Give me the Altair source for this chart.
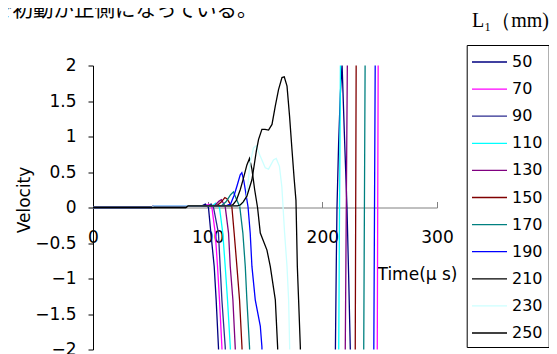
import altair as alt
import pandas as pd

# ---------------- data ----------------
L1 = [50, 70, 90, 110, 130, 150, 170, 190, 210, 230, 250]
COLORS = ["#000080", "#FF00FF", "#2B2B8F", "#00FFFF", "#800080", "#800000",
          "#008080", "#0000FF", "#000000", "#CCFFFF", "#000000"]

t_50 = [0, 51, 53, 95, 98, 100.7, 102.8, 105.7, 107.4, 109.4, 110.5,
        211.0, 211.4, 212.2, 212.8, 214.2, 215.7, 217.2, 219.3, 221.5, 223.0, 224.4, 225.0]
v_50 = [0, 0, 0.024, 0.024, 0.05, 0.0, -0.36, -0.83, -1.3, -1.96, -2.5,
        -2.5, -2.0, -0.74, 0.01, 0.9, 1.6, 2.02, 1.0, 0.0, -1.0, -2.0, -2.5]

t_70 = [0, 51, 53, 98, 101, 103.7, 106.6, 108.6, 110.3, 112.4, 113.5,
        247.6, 247.9, 248.3, 248.7, 249.0]
v_70 = [0, 0, 0.024, 0.024, 0.045, 0.0, -0.36, -0.83, -1.3, -1.96, -2.5,
        -2.5, -2.0, 0.0, 2.0, 2.5]

t_90 = [0, 51, 53, 101, 103, 105.1, 109.4, 110.9, 112.4, 115.3, 116.5]
v_90 = [0, 0, 0.024, 0.024, 0.05, 0.0, -0.36, -0.83, -1.3, -1.96, -2.5]

t_110 = [0, 51, 53, 104, 107, 110.3, 113.2, 115.3, 117.3, 119.7, 120.8,
         214.0, 214.3, 215.0, 215.8, 216.1]
v_110 = [0, 0, 0.024, 0.024, 0.06, 0.0, -0.36, -0.83, -1.3, -1.96, -2.5,
         -2.5, -2.0, 0.0, 2.0, 2.5]

t_130 = [0, 51, 53, 106, 110, 112, 115.3, 118.2, 119.7, 122.0, 124.0, 125.2,
         219.6, 220.0, 220.9, 221.8, 222.2]
v_130 = [0, 0, 0.024, 0.024, 0.09, 0.11, 0.01, -0.36, -0.83, -1.3, -1.96, -2.5,
         -2.5, -2.0, 0.0, 2.0, 2.5]

t_150 = [0, 51, 53, 108, 112, 115, 117, 121.1, 123.1, 125.5, 127.8, 129.9, 131.0,
         228.4, 228.7, 229.1, 229.5, 229.8]
v_150 = [0, 0, 0.024, 0.024, 0.08, 0.14, 0.12, 0.01, -0.36, -0.83, -1.3, -1.96, -2.5,
         -2.5, -2.0, 0.0, 2.0, 2.5]

t_170 = [0, 51, 53, 112, 116, 120, 122.5, 125, 128, 130.7, 132.8, 134.2, 136.5, 137.5,
         235.8, 236.1, 236.7, 237.3, 237.6]
v_170 = [0, 0, 0.024, 0.024, 0.08, 0.18, 0.22, 0.12, 0.01, -0.36, -0.83, -1.3, -1.96, -2.5,
         -2.5, -2.0, 0.0, 2.0, 2.5]

t_190 = [0, 51, 53, 116, 120, 123, 125.5, 128.4, 129.8, 131.5, 132.8, 135.2, 137.1, 138.6,
         141.5, 145.9, 147.3, 148.0, 244.6, 244.9, 245.5, 246.1, 246.4]
v_190 = [0, 0, 0.024, 0.024, 0.05, 0.17, 0.3, 0.46, 0.49, 0.38, 0.25, 0.01, -0.36, -0.83,
         -1.3, -1.67, -1.96, -2.5, -2.5, -2.0, 0.0, 2.0, 2.5]

t_210 = [0, 81, 83, 120, 122, 125, 128.4, 131, 134.2, 136.5, 138.6, 141, 143.5, 145.9,
         151.7, 154.6, 159.0, 161.0, 161.8]
v_210 = [0, 0, 0.024, 0.024, 0.04, 0.1, 0.25, 0.4, 0.6, 0.69, 0.54, 0.25, 0.0, -0.36,
         -0.6, -0.83, -1.3, -1.96, -2.5]

t_230 = [0, 51, 53, 128, 131, 134, 137, 140, 142.4, 145.9, 150.2, 153.1, 157.4, 159.8,
         162.6, 164.7, 165.7, 167.1, 169.2, 170.6, 171.5, 172.0]
v_230 = [0, 0, 0.024, 0.024, 0.06, 0.16, 0.63, 0.84, 0.87, 0.72, 0.56, 0.54, 0.67, 0.69,
         0.58, 0.29, 0.02, -0.36, -0.83, -1.3, -1.96, -2.5]

t_250 = [0, 81, 83, 126, 128.4, 131, 134.2, 138.6, 140, 142.5, 144.4, 147.3, 150, 153.1,
         156.1, 159, 161.8, 164.8, 166.8, 169.2, 171.4, 173.5, 175.5, 177.0, 177.6, 178.2,
         179.3, 180.8, 181.3]
v_250 = [0, 0, 0.024, 0.024, 0.035, 0.08, 0.16, 0.39, 0.535, 0.8, 0.96, 1.1, 1.1, 1.09,
         1.17, 1.43, 1.66, 1.83, 1.84, 1.71, 1.29, 0.82, 0.39, 0.1, -0.36, -0.83,
         -1.3, -1.96, -2.5]

TOP_TEXT = ["で初動が正側になっている。"]
LEGEND_TITLE = ["L₁（mm)"]
X_TITLE = "Time(μ s)"
Y_TITLE = "Velocity"
X_TICKS = [0, 100, 200, 300]
Y_TICKS = [-2, -1.5, -1, -0.5, 0, 0.5, 1, 1.5, 2]

series = {50: (t_50, v_50), 70: (t_70, v_70), 90: (t_90, v_90), 110: (t_110, v_110),
          130: (t_130, v_130), 150: (t_150, v_150), 170: (t_170, v_170),
          190: (t_190, v_190), 210: (t_210, v_210), 230: (t_230, v_230),
          250: (t_250, v_250)}

rows = []
for k in L1:
    ts, vs = series[k]
    for i, (t, v) in enumerate(zip(ts, vs)):
        rows.append({"L1": k, "t": t, "v": v, "i": i})
df = pd.DataFrame(rows)

# ---------------- chart ----------------
W, H = 344, 284
FONT = "DejaVu Sans"
xscale = alt.Scale(domain=[0, 300], nice=False, zero=False)
yscale = alt.Scale(domain=[-2, 2], nice=False, zero=False)

bottom_axis = alt.Axis(orient="bottom", offset=-142, values=X_TICKS, format="d",
                       ticks=False, tickSize=0, domain=False, grid=False,
                       labelPadding=22, labelFontSize=17, labelFont=FONT,
                       labelColor="black", labelFlush=False,
                       title=X_TITLE, titleX=324, titleY=67, titleAlign="center",
                       titleBaseline="middle", titleFont=FONT, titleFontSize=17,
                       titleFontWeight="normal", titleColor="black")

top_axis = alt.Axis(orient="top", offset=-142, values=X_TICKS, ticks=True,
                    tickSize=6, tickColor="#808080", domain=True,
                    domainColor="#808080", labels=False, title=None, grid=False)

y_axis = alt.Axis(values=Y_TICKS, format="~g", tickSize=5, tickColor="black",
                  domainColor="black", grid=False, labelFontSize=17, labelFont=FONT,
                  labelColor="black", labelPadding=12,
                  title=Y_TITLE, titleX=-69, titleY=134, titleAngle=-90,
                  titleAlign="center", titleBaseline="middle", titleFont=FONT,
                  titleFontSize=17, titleFontWeight="normal", titleColor="black")

legend = alt.Legend(orient="none", legendX=373.7, legendY=-20.5, title=" ",
                    titleFontSize=1, titlePadding=2,
                    strokeColor="black", fillColor="white", padding=6,
                    symbolType="M-1.74,0H5.26", symbolSize=100, symbolStrokeWidth=1.3,
                    labelOffset=23.3, labelFontSize=16, labelFont=FONT,
                    labelColor="black", rowPadding=11.1, direction="vertical")

lines = alt.Chart(df).mark_line(clip=True, strokeWidth=1.3).encode(
    x=alt.X("t:Q", scale=xscale, axis=bottom_axis),
    y=alt.Y("v:Q", scale=yscale, axis=y_axis),
    color=alt.Color("L1:N", scale=alt.Scale(domain=L1, range=COLORS), legend=legend),
    order="i:Q",
)

tick_layer = alt.Chart(df).mark_point(opacity=0, clip=True).encode(
    x=alt.X("t:Q", scale=xscale, axis=top_axis),
    y=alt.Y("v:Q", scale=yscale, axis=None),
)

top_text = alt.Chart(pd.DataFrame({"s": TOP_TEXT})).mark_text(
    align="left", baseline="alphabetic", font="Noto Sans CJK JP", fontSize=20.5,
    color="black").encode(text="s:N", x=alt.value(-101), y=alt.value(-49))

leg_title = alt.Chart(pd.DataFrame({"s": LEGEND_TITLE})).mark_text(
    align="left", baseline="middle", font="Liberation Serif", fontSize=20,
    color="black").encode(text="s:N", x=alt.value(379), y=alt.value(-44.5))

chart = alt.layer(tick_layer, lines, top_text, leg_title).resolve_axis(
    x="independent", y="independent").properties(
    width=W, height=H,
    autosize=alt.AutoSizeParams(type="none"),
    padding={"left": 85, "top": 57.5, "right": 112, "bottom": 5},
).configure_view(stroke=None)

chart.save("out.html", embed_options={"renderer": "svg", "actions": False})
